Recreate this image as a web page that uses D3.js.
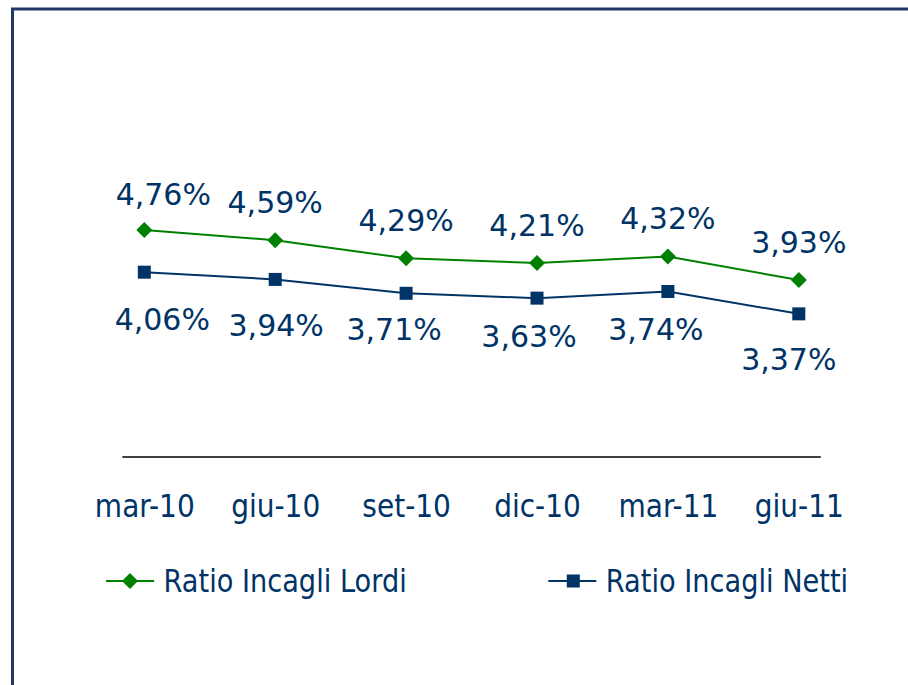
<!DOCTYPE html>
<html>
<head>
<meta charset="utf-8">
<script src="https://cdn.jsdelivr.net/npm/d3@7"></script>
<style>
  body { margin: 0; background: #fff; }
  svg { display: block; }
  text { font-family: "DejaVu Sans", Verdana, sans-serif; fill: #003366; }
</style>
</head>
<body>
<div id="chart"></div>
<script>
// Data
var categories = ["mar-10", "giu-10", "set-10", "dic-10", "mar-11", "giu-11"];
var lordi = [4.76, 4.59, 4.29, 4.21, 4.32, 3.93];
var netti = [4.06, 3.94, 3.71, 3.63, 3.74, 3.37];
var seriesNames = ["Ratio Incagli Lordi", "Ratio Incagli Netti"];

// Chart size
var width = 908;
var height = 685;

var green = "#008000";
var navy = "#003366";

// hand placed label nudges (dx, dy from the point)
var lordiNudge = [[19, -25], [0, -27], [0, -27], [0, -27], [0, -27], [0, -27]];
var nettiNudge = [[18, 58], [1, 57], [-12, 47], [-8, 49], [-12, 48], [-10, 56]];

var it = d3.formatLocale({decimal: ",", thousands: ".", grouping: [3], currency: ["", "€"]});
var pct = function(v) { return it.format(".2f")(v) + "%"; };

var svg = d3
    .select("#chart")
    .append("svg")
    .attr("width", width)
    .attr("height", height);

// frame
svg.append("rect")
    .attr("x", 12.5)
    .attr("y", 9)
    .attr("width", width)
    .attr("height", height)
    .attr("fill", "none")
    .attr("stroke", "#1f3864")
    .attr("stroke-width", 3);

// scales
var x = d3.scalePoint()
    .domain(categories)
    .range([144.3, 798.8]);

var y = d3.scaleLinear()
    .domain([1, 5])
    .range([457, 215.4]);

// baseline
svg.append("line")
    .attr("x1", x.range()[0] - 22)
    .attr("x2", x.range()[1] + 22)
    .attr("y1", y(1))
    .attr("y2", y(1))
    .attr("stroke", "#000")
    .attr("stroke-width", 1.5);

// category axis
var xAxis = svg.append("g")
    .attr("transform", "translate(0," + y(1) + ")")
    .call(d3.axisBottom(x).tickSize(0).tickPadding(0));
xAxis.select(".domain").remove();
xAxis.selectAll("text")
    .attr("y", 60)
    .attr("dy", 0)
    .style("font-size", "32px")
    .style("font-family", "DejaVu Sans, Verdana, sans-serif")
    .attr("fill", navy)
    .each(function() {
        var w = this.getComputedTextLength();
        d3.select(this).attr("textLength", w * 0.875).attr("lengthAdjust", "spacingAndGlyphs");
    });

var line = d3.line()
    .x(function(d, i) { return x(categories[i]); })
    .y(function(d) { return y(d); });

// lines
svg.append("path")
    .datum(lordi)
    .attr("d", line)
    .attr("fill", "none")
    .attr("stroke", green)
    .attr("stroke-width", 2);

svg.append("path")
    .datum(netti)
    .attr("d", line)
    .attr("fill", "none")
    .attr("stroke", navy)
    .attr("stroke-width", 2);

// markers
var diamond = d3.symbol().type(d3.symbolSquare).size(128);
svg.selectAll(".mLordi")
    .data(lordi)
    .enter()
    .append("path")
    .attr("class", "mLordi")
    .attr("d", diamond)
    .attr("transform", function(d, i) {
        return "translate(" + x(categories[i]) + "," + y(d) + ") rotate(45)";
    })
    .attr("fill", green);

svg.selectAll(".mNetti")
    .data(netti)
    .enter()
    .append("rect")
    .attr("class", "mNetti")
    .attr("x", function(d, i) { return x(categories[i]) - 6.5; })
    .attr("y", function(d) { return y(d) - 6.5; })
    .attr("width", 13)
    .attr("height", 13)
    .attr("fill", navy);

// value labels
svg.selectAll(".lLordi")
    .data(lordi)
    .enter()
    .append("text")
    .attr("class", "lLordi")
    .attr("x", function(d, i) { return x(categories[i]) + lordiNudge[i][0]; })
    .attr("y", function(d, i) { return y(d) + lordiNudge[i][1]; })
    .attr("text-anchor", "middle")
    .style("font-size", "30px")
    .text(pct);

svg.selectAll(".lNetti")
    .data(netti)
    .enter()
    .append("text")
    .attr("class", "lNetti")
    .attr("x", function(d, i) { return x(categories[i]) + nettiNudge[i][0]; })
    .attr("y", function(d, i) { return y(d) + nettiNudge[i][1]; })
    .attr("text-anchor", "middle")
    .style("font-size", "30px")
    .text(pct);

// legend
var legendY = 581;
var legendX = [106, 548.3];

seriesNames.forEach(function(name, i) {
    var g = svg.append("g").attr("transform", "translate(" + legendX[i] + "," + legendY + ")");
    var c = i === 0 ? green : navy;
    g.append("line")
        .attr("x1", 0).attr("x2", 48)
        .attr("stroke", c)
        .attr("stroke-width", 2);
    if (i === 0) {
        g.append("path")
            .attr("d", diamond)
            .attr("transform", "translate(24,0) rotate(45)")
            .attr("fill", c);
    } else {
        g.append("rect")
            .attr("x", 25 - 6.5).attr("y", -6.5)
            .attr("width", 13).attr("height", 13)
            .attr("fill", c);
    }
    var t = g.append("text")
        .attr("x", 57.5)
        .attr("y", 11)
        .style("font-size", "32px")
        .text(name);
    var w = t.node().getComputedTextLength();
    t.attr("textLength", w * 0.85).attr("lengthAdjust", "spacingAndGlyphs");
});
</script>
</body>
</html>
